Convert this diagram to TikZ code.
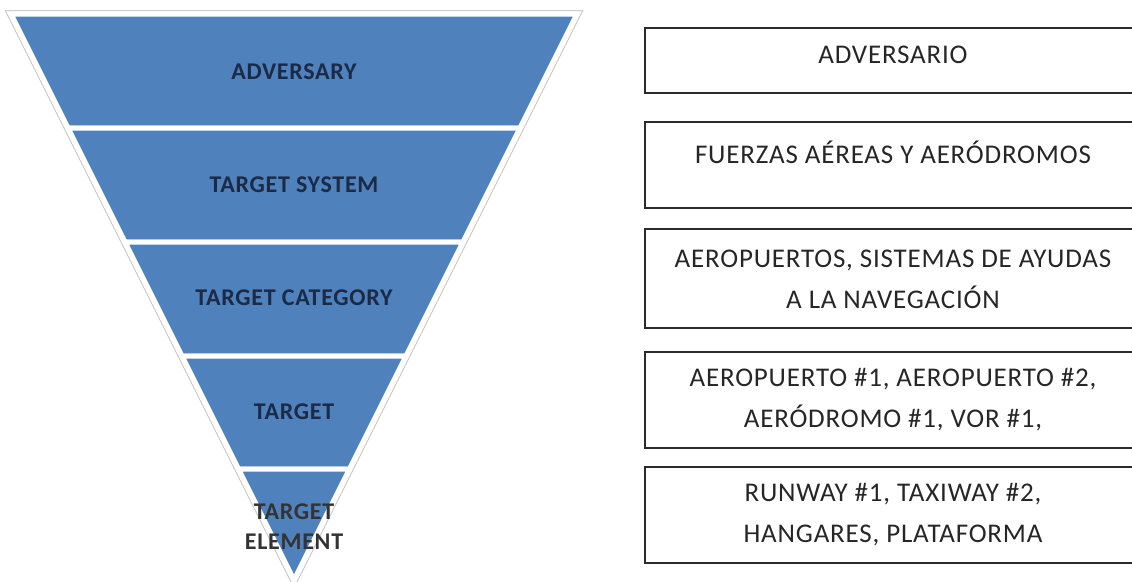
\documentclass[tikz,border=0pt]{standalone}
\usepackage{fontspec}
\setmainfont{Carlito}
\newfontfamily\boxfont[LetterSpace=3]{Carlito}
\newfontfamily\bandfont[LetterSpace=3]{Carlito}
\usepackage{tikz}
\usetikzlibrary{calc}
\definecolor{bandblue}{HTML}{4F81BD}
\definecolor{bandtext}{HTML}{1B2A45}
\definecolor{boxline}{HTML}{2B2B2B}

\begin{document}
\begin{tikzpicture}[x=1pt, y=-1pt,
    band/.style={fill=bandblue, draw=white, line width=5pt, line join=bevel},
    bandlabel/.style={font=\bandfont\fontsize{24}{30}\selectfont\bfseries, text=bandtext, align=center},
    box/.style={draw=boxline, line width=1.3pt, minimum width=496pt, inner sep=0pt},
    boxlabel/.style={font=\boxfont\fontsize{27}{41}\selectfont, text=black!85, align=center}]
      \useasboundingbox (0, 0) rectangle (1132, 581);
      % pyramid
      \draw[black!20, line width=1pt, fill=white] (5.25, 10.5) -- (582.75, 10.5) -- (294, 588) -- cycle;
      \draw[band] (11, 14) -- (577, 14) -- (520, 128) -- (68, 128) -- cycle;
      \draw[band] (68, 128) -- (520, 128) -- (463, 242) -- (125, 242) -- cycle;
      \draw[band] (125, 242) -- (463, 242) -- (406, 356) -- (182, 356) -- cycle;
      \draw[band] (182, 356) -- (406, 356) -- (349.5, 469) -- (238.5, 469) -- cycle;
      \draw[band] (238.5, 469) -- (349.5, 469) -- (294, 580) -- cycle;
      \node[bandlabel] (adversary) at (294, 72) {ADVERSARY};
      \node[bandlabel] (system) at (294, 185) {TARGET SYSTEM};
      \node[bandlabel] (category) at (294, 298) {TARGET CATEGORY};
      \node[bandlabel] (target) at (294, 412) {TARGET};
      \node[bandlabel, text=black!80] (element) at (294, 527) {TARGET\\ELEMENT};
      % boxes
      \node[box, minimum height=65pt] (box1) at (893, 60.5) {};
      \node[box, minimum height=86pt] (box2) at (893, 165) {};
      \node[box, minimum height=99pt] (box3) at (893, 278.5) {};
      \node[box, minimum height=96pt] (box4) at (893, 400) {};
      \node[box, minimum height=96pt] (box5) at (893, 515) {};
      \node[boxlabel] (adversario) at (893, 55) {ADVERSARIO};
      \node[boxlabel] (fuerzas) at (893, 152) {FUERZAS AÉREAS Y AERÓDROMOS};
      \node[boxlabel] (aeropuertos) at (893, 279) {AEROPUERTOS, SISTEMAS DE AYUDAS\\A LA NAVEGACIÓN};
      \node[boxlabel] (aerodromos) at (893, 400) {AEROPUERTO \#1, AEROPUERTO \#2,\\AERÓDROMO \#1, VOR \#1,};
      \node[boxlabel] (runway) at (893, 515) {RUNWAY \#1, TAXIWAY \#2,\\HANGARES, PLATAFORMA};
    \end{tikzpicture}
\end{document}
